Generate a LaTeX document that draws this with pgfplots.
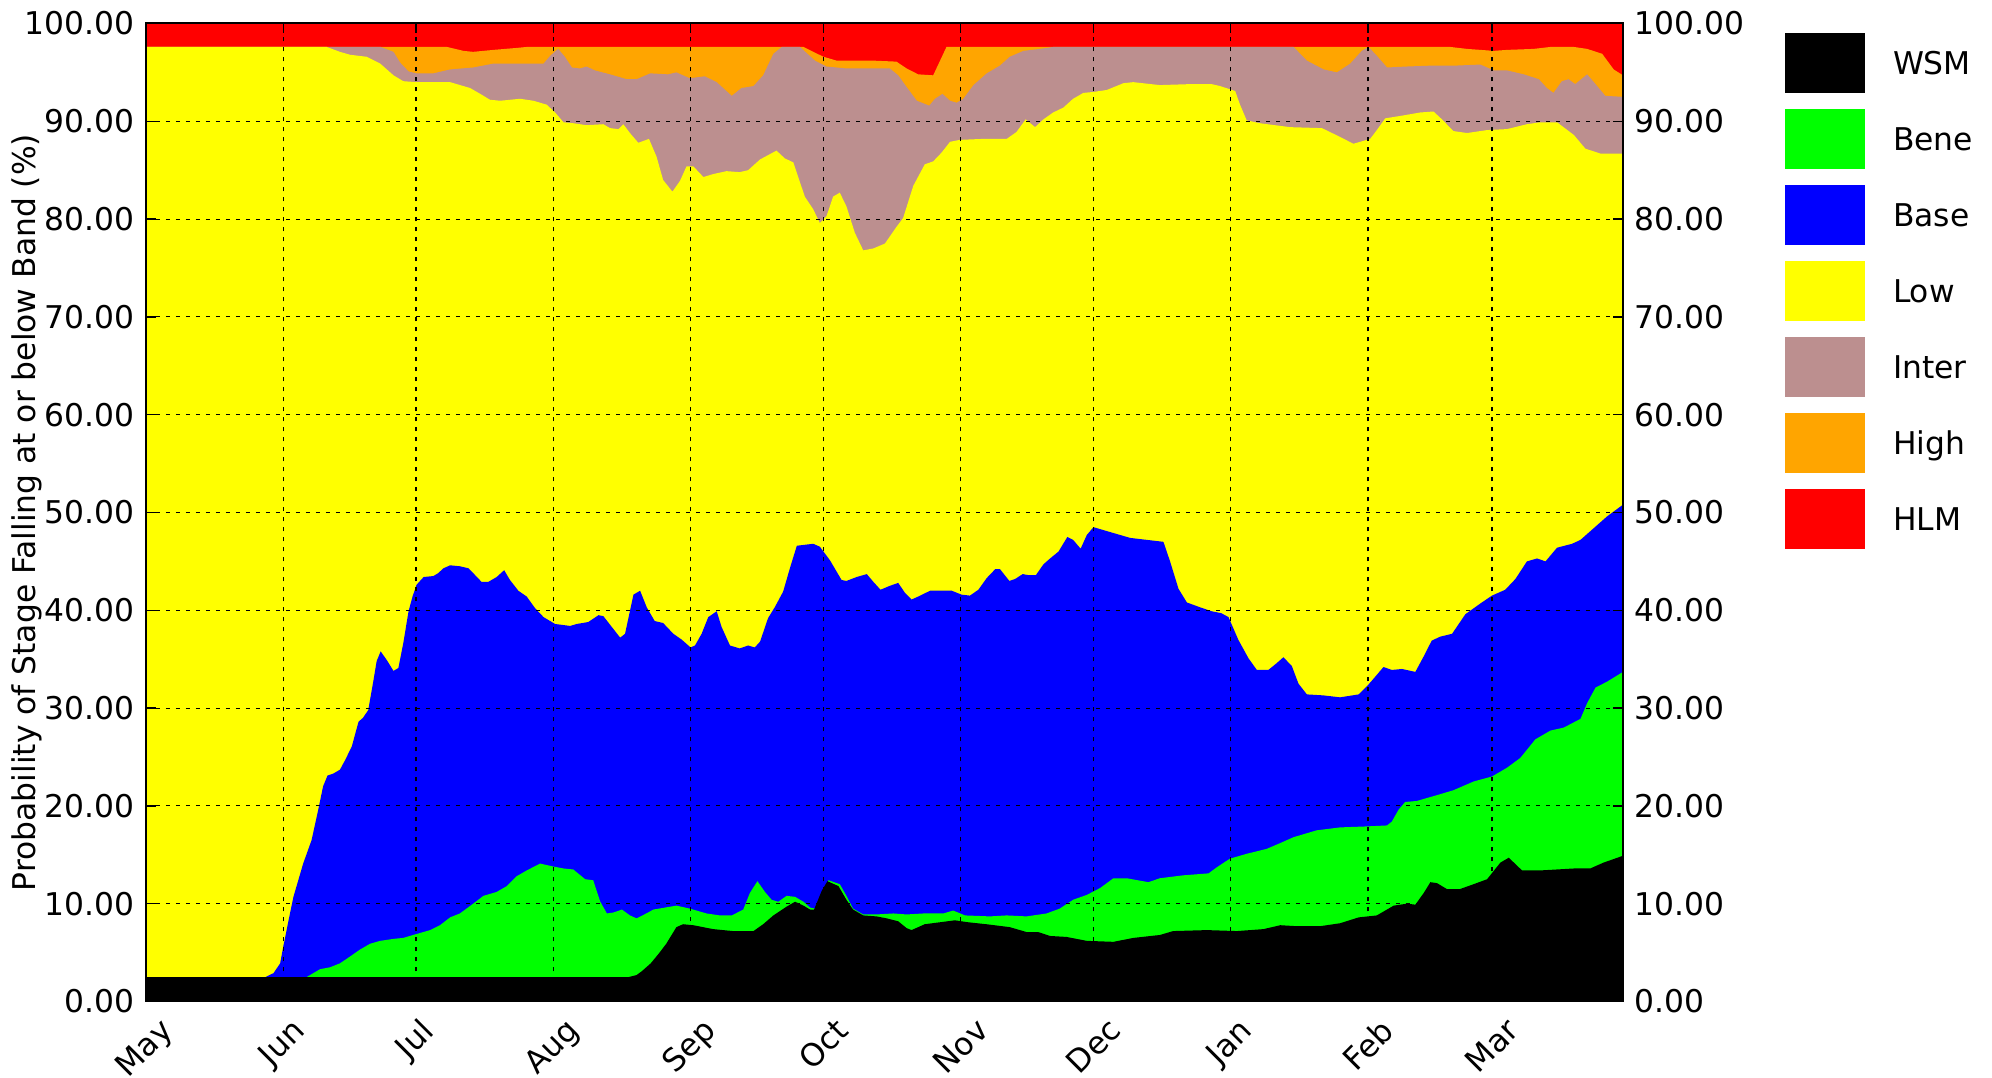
\documentclass[border=0pt]{standalone}
\usepackage{fontspec}
\setmainfont{DejaVu Sans}
\usepackage{pgfplots}
\pgfplotsset{compat=1.18}
\definecolor{cHLM}{RGB}{255,0,0}
\definecolor{cHigh}{RGB}{255,165,0}
\definecolor{cInter}{RGB}{188,143,143}
\definecolor{cLow}{RGB}{255,255,0}
\definecolor{cBase}{RGB}{0,0,255}
\definecolor{cBene}{RGB}{0,255,0}
\definecolor{cWSM}{RGB}{0,0,0}
\newcommand{\fs}{\fontsize{9.4}{11}\selectfont}
\begin{document}
\begin{tikzpicture}
\begin{axis}[
  name=main,
  scale only axis,
  width=443.1pt, height=293.4pt,
  xmin=0, xmax=333.6, ymin=0, ymax=100,
  axis on top,
  axis line style={line width=0.6pt},
  tick align=inside,
  major tick length=3pt,
  tick style={black, line width=0.4pt},
  xtick={0,31,61,92,123,153,184,214,245,276,304},
  xticklabels={\rotatebox{45}{May},\rotatebox{45}{Jun},\rotatebox{45}{Jul},\rotatebox{45}{Aug},\rotatebox{45}{Sep},\rotatebox{45}{Oct},\rotatebox{45}{Nov},\rotatebox{45}{Dec},\rotatebox{45}{Jan},\rotatebox{45}{Feb},\rotatebox{45}{Mar}},
  xticklabel style={anchor=north, font=\fs, inner sep=0pt, yshift=-4.3pt},
  ytick={0,10,...,100},
  yticklabel style={font=\fs, /pgf/number format/fixed, /pgf/number format/fixed zerofill, /pgf/number format/precision=2, /pgf/number format/assume math mode=true},
  yticklabel pos=left,
  ylabel={Probability of Stage Falling at or below Band (\%)},
  ylabel style={font=\fs, at={([xshift=-35.7pt]axis description cs:0,0.5)}, anchor=center},
  grid=major,
  grid style={black, line width=0.35pt, dash pattern=on 1.2pt off 1.8pt},
  legend image code/.code={\fill[#1] (0pt,-9pt) rectangle (24pt,9pt);},
  reverse legend,
  legend style={draw=none, fill=none, at={(1,1)}, anchor=north west, xshift=48.6pt, yshift=-2.85pt,
    inner sep=0pt, outer sep=0pt, row sep=4.8pt, column sep=8.4pt, font=\fs,
    nodes={inner sep=0pt, anchor=west, text height=6.8pt, text depth=0pt}},
  legend cell align=left,
]
\addplot[fill=cHLM, draw=none] coordinates {(0,100) (333.6,100)} \closedcycle;
\addlegendentry{HLM}
\addplot[fill=cHigh, draw=none] coordinates {
(0,97.6) (68,97.6) (71.7,97.2) (73.9,97.1) (78.5,97.3) (83.7,97.5) (86,97.6) (148.5,97.6) (150.7,97.1) (153,96.6) (156,96.2) (164.3,96.2) (169.5,96.1) (171.8,95.4) (174.4,94.8) (177.8,94.7) (180.8,97.6) (294.6,97.6) (298.4,97.4) (304.4,97.2) (307.4,97.3) (313.4,97.4) (317.2,97.6) (322.5,97.6) (325.5,97.4) (328.9,96.9) (331.5,95.3) (333.6,94.7)
} \closedcycle;
\addlegendentry{High}
\addplot[fill=cInter, draw=none] coordinates {
(0,97.6) (53,97.6) (55.9,97.1) (57.4,96.0) (59.3,95.1) (61.1,94.9) (64.9,94.9) (68.7,95.3) (73.9,95.5) (78.5,95.9) (83.7,95.9) (89.8,95.9) (91.3,96.7) (93.1,97.4) (94.6,96.6) (96.2,95.5) (98,95.4) (99.5,95.6) (101.4,95.2) (104.8,94.8) (108.6,94.3) (110.8,94.3) (113.9,94.9) (117.9,94.8) (119.8,95.0) (122.8,94.4) (126.2,94.6) (128.9,94.0) (132.3,92.6) (134.5,93.4) (137.2,93.6) (139.4,94.7) (141.7,96.9) (143.6,97.6) (147.7,97.6) (151.1,96.2) (153.7,95.6) (158.2,95.4) (168,95.4) (169.9,94.7) (171.8,93.5) (174.1,92.1) (176.9,91.6) (178.2,92.3) (179.9,92.8) (181.6,92.1) (183.1,91.9) (184.6,92.3) (186.9,93.7) (189.9,94.9) (192.9,95.7) (195.1,96.6) (198.2,97.2) (201.9,97.4) (204.9,97.6) (259.2,97.6) (262.2,96.2) (266,95.3) (269,95.0) (272,95.9) (274.6,97.2) (276.1,97.6) (278,96.7) (280.3,95.5) (284.8,95.6) (290.8,95.7) (296.1,95.7) (301.4,95.8) (304.4,95.2) (307.4,95.2) (311.2,94.8) (314.6,94.3) (316.4,93.4) (317.9,92.9) (319.8,94.1) (321.3,94.3) (322.8,93.8) (325.5,94.8) (327.4,93.8) (329.6,92.6) (333.6,92.5)
} \closedcycle;
\addlegendentry{Inter}
\addplot[fill=cLow, draw=none] coordinates {
(0,97.6) (40.8,97.6) (43.8,97.1) (46.1,96.8) (49.8,96.6) (52.9,95.9) (55.9,94.7) (58.1,94.1) (61.1,94.0) (64.9,94.0) (68.7,94.0) (73.2,93.4) (75.5,92.8) (77.7,92.2) (80,92.1) (84.5,92.3) (87.5,92.1) (90.5,91.7) (92.4,90.9) (94.3,89.9) (96.5,89.8) (99.5,89.6) (103.3,89.7) (104.8,89.3) (106.7,89.2) (107.8,89.7) (109.3,88.8) (111.2,87.8) (113.6,88.2) (115.3,86.4) (116.8,84.0) (118.9,82.8) (120.6,83.9) (122.1,85.4) (123.6,85.4) (125.9,84.3) (128.1,84.6) (131.1,84.9) (134.1,84.8) (136,85.0) (138.7,86.1) (142.4,87.0) (144.3,86.2) (146.2,85.8) (148.8,82.3) (150.7,81.0) (152.2,79.6) (153.7,80.3) (155.2,82.3) (156.7,82.7) (158.2,81.3) (160.1,78.6) (162,76.8) (164.3,77.0) (166.9,77.5) (169.5,79.2) (171,80.1) (173.3,83.4) (175.9,85.6) (177.8,85.9) (179.7,86.8) (181.6,87.9) (183.8,88.1) (189.1,88.2) (194.4,88.2) (196.6,88.9) (198.7,90.2) (200.8,89.4) (202.7,90.2) (204.9,90.9) (207.2,91.4) (209.4,92.3) (211.7,92.9) (214,93.0) (217,93.2) (220.8,93.9) (223,94.0) (229,93.7) (235.8,93.8) (240.7,93.8) (242.6,93.6) (246,93.1) (247.1,91.7) (248.6,90.1) (251.6,89.8) (258.4,89.4) (265.6,89.3) (269.7,88.4) (272.7,87.7) (276.5,88.2) (278,89.1) (279.9,90.3) (284,90.6) (287.8,90.9) (290.8,91.0) (292.7,90.2) (295.3,89.0) (298.4,88.8) (302.9,89.1) (307.4,89.2) (311.9,89.7) (314.9,89.9) (318.7,89.9) (322.5,88.6) (325.1,87.2) (328.5,86.7) (333.6,86.7)
} \closedcycle;
\addlegendentry{Low}
\addplot[fill=cBase, draw=none] coordinates {
(0,2.5) (27,2.5) (28.8,2.9) (30.3,3.9) (31,5.6) (32.2,8.3) (33.3,10.7) (35.5,14.1) (37.4,16.5) (38.9,19.6) (40,22) (41,23.1) (42.3,23.3) (43.8,23.7) (45,24.7) (46.5,26.1) (48,28.6) (49,29) (50.2,29.8) (51.4,32.9) (52.1,34.8) (53,35.8) (54.4,34.9) (55.9,33.8) (57,34.1) (58.1,36.6) (59.3,39.9) (60.2,41.4) (61.1,42.6) (62.7,43.4) (64.9,43.5) (66,43.8) (67.2,44.3) (68.7,44.6) (70.9,44.5) (72.8,44.3) (73.9,43.8) (75.8,42.9) (77.3,42.9) (79.2,43.4) (80.9,44.1) (82.2,43.1) (84.1,42) (86,41.4) (87.9,40.2) (89.8,39.3) (92.4,38.6) (95.8,38.4) (97.3,38.6) (99.9,38.8) (102.2,39.5) (103.3,39.4) (105.2,38.3) (107.1,37.2) (108.2,37.6) (110.1,41.6) (111.6,42) (113.1,40.3) (114.9,38.9) (116.8,38.7) (119.1,37.6) (121,37) (123,36.2) (124,36.4) (125.5,37.6) (127,39.3) (128.9,39.9) (130,38.3) (131.9,36.4) (134.1,36.1) (136,36.4) (137.5,36.2) (138.7,36.8) (140.5,39.2) (142,40.3) (143.9,41.9) (145.5,44.4) (147,46.6) (150.7,46.8) (152.2,46.5) (154.5,45.1) (157.1,43.1) (158.2,43) (160.5,43.4) (162.8,43.7) (164.3,42.9) (165.9,42.1) (168,42.5) (169.9,42.8) (171.4,41.8) (172.9,41.1) (174.4,41.4) (177.1,42) (179.3,42) (182,42) (184.2,41.6) (186.1,41.5) (188,42.1) (189.9,43.3) (191.8,44.2) (192.9,44.2) (195,43) (196.3,43.2) (198,43.7) (199.3,43.6) (201,43.6) (202.7,44.7) (204.2,45.3) (206.1,46) (208.1,47.5) (209.4,47.2) (211.1,46.3) (212.5,47.7) (214,48.5) (218.5,47.9) (222.3,47.4) (229.8,47.0) (231.3,45.0) (233.2,42.2) (235.1,40.8) (238.1,40.3) (240.7,39.9) (242.9,39.7) (244.5,39.3) (246.7,37.0) (249,35.1) (250.9,33.9) (253.5,33.9) (255.4,34.6) (256.9,35.2) (258.8,34.3) (260.3,32.5) (262.2,31.4) (265.9,31.3) (269.7,31.1) (273.9,31.4) (276.1,32.4) (278,33.4) (279.5,34.2) (281.4,33.9) (283.7,34.0) (286.7,33.7) (288.6,35.3) (290.4,36.9) (292.3,37.3) (295,37.6) (298,39.6) (301.4,40.7) (304,41.5) (307,42.1) (309.3,43.2) (311.9,45.0) (314.2,45.3) (316.1,45.0) (318.7,46.4) (322.1,46.8) (324,47.2) (327,48.4) (330,49.6) (333.6,50.8)
} \closedcycle;
\addlegendentry{Base}
\addplot[fill=cBene, draw=none] coordinates {
(0,2.5) (36.3,2.5) (37.8,2.9) (39.3,3.3) (41.6,3.5) (43.8,3.9) (46.1,4.6) (48.3,5.3) (50.6,5.9) (52.9,6.2) (55.9,6.4) (58.1,6.5) (61.1,6.9) (64.2,7.3) (66.4,7.8) (68.7,8.6) (70.9,9.0) (73.9,10) (76.2,10.8) (79.2,11.2) (81.5,11.8) (83.7,12.8) (86,13.4) (89,14.1) (92,13.8) (94.3,13.6) (96.5,13.5) (99.2,12.5) (101,12.4) (102.6,10.2) (104.1,9.0) (105.6,9.1) (107.5,9.4) (109.3,8.8) (110.8,8.5) (113,9.0) (114.6,9.4) (119.8,9.8) (122.8,9.5) (126.6,9.0) (129.6,8.8) (132.3,8.8) (134.9,9.4) (136.4,11.1) (138.1,12.3) (139.8,11.2) (141.3,10.4) (142.8,10.2) (144.7,10.8) (146.6,10.7) (148.5,10.2) (150,9.6) (151.1,9.5) (153,11.4) (154.1,12.4) (156.7,12.0) (158.2,10.8) (159.7,9.5) (162,8.9) (165,8.9) (168.8,9.0) (171.8,8.9) (175.6,9.0) (180.1,9.0) (182.3,9.3) (185,8.8) (190.6,8.7) (194.4,8.8) (198.9,8.7) (203.4,9.0) (206.4,9.5) (209.4,10.4) (212.5,10.9) (215.5,11.6) (218.5,12.6) (221.5,12.6) (226.4,12.2) (229,12.6) (234.3,12.9) (240,13.1) (241.8,13.7) (244.8,14.6) (248.6,15.1) (253.1,15.6) (256.2,16.2) (259.2,16.8) (264.4,17.5) (269.7,17.8) (275.7,17.9) (280.3,18.0) (281.4,18.4) (282.9,19.6) (284.4,20.4) (287,20.5) (291.6,21.1) (295.3,21.6) (299.9,22.5) (304,23.0) (307.4,23.9) (310.4,24.9) (313.8,26.8) (317.2,27.7) (320.2,28.0) (324,28.9) (325.5,30.5) (327.4,32.1) (330,32.7) (333.6,33.7)
} \closedcycle;
\addlegendentry{Bene}
\addplot[fill=cWSM, draw=none] coordinates {
(0,2.5) (109,2.5) (110.8,2.7) (112,3.1) (114,3.9) (116,5.0) (117.5,5.9) (119.8,7.6) (121.3,7.9) (123.6,7.8) (128.1,7.4) (132.6,7.2) (137.2,7.2) (139.4,7.9) (141.7,8.8) (144.7,9.7) (146.6,10.2) (148.5,9.8) (150,9.4) (150.9,9.4) (152.6,11.3) (153.9,12.3) (156.4,11.8) (158.2,10.4) (159.7,9.4) (162,8.8) (165,8.7) (167.3,8.5) (169.9,8.2) (171.8,7.5) (172.9,7.3) (175.9,7.9) (179.3,8.1) (182.7,8.3) (185.7,8.1) (189.8,7.9) (195.1,7.6) (198.9,7.1) (201.5,7.1) (204.2,6.7) (207.9,6.6) (212.5,6.2) (218.5,6.1) (223,6.5) (229,6.8) (232,7.2) (239.6,7.3) (246.4,7.2) (252.4,7.4) (256.2,7.8) (259.9,7.7) (265.2,7.7) (269.7,8.0) (273.9,8.6) (278,8.8) (281.8,9.8) (284.8,10.0) (286.7,9.9) (288.6,11.1) (290.1,12.2) (291.6,12.1) (293.8,11.5) (296.8,11.5) (299.9,12.0) (302.9,12.5) (305.9,14.2) (307.8,14.7) (310.8,13.4) (314.9,13.4) (318.7,13.5) (322.5,13.6) (326.2,13.6) (329.2,14.2) (333.6,14.9)
} \closedcycle;
\addlegendentry{WSM}
\end{axis}
\begin{axis}[
  scale only axis,
  width=443.1pt, height=293.4pt,
  xmin=0, xmax=333.6, ymin=0, ymax=100,
  hide x axis,
  axis y line*=right,
  y axis line style={draw=none},
  major tick length=0pt,
  ytick={0,10,...,100},
  yticklabel style={font=\fs, /pgf/number format/fixed, /pgf/number format/fixed zerofill, /pgf/number format/precision=2, /pgf/number format/assume math mode=true},
]
\addplot[draw=none] coordinates {(0,0)};
\end{axis}
\pgfresetboundingbox
\path ([xshift=-43.8pt,yshift=-22.95pt]main.south west) rectangle ([xshift=110.7pt,yshift=7.05pt]main.north east);
\end{tikzpicture}
\end{document}
